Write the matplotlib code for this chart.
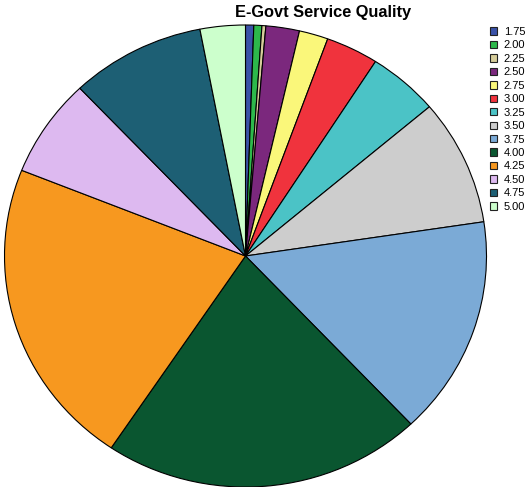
import matplotlib
matplotlib.use("Agg")
import matplotlib.pyplot as plt
from matplotlib.patches import Patch

# Share of responses at each rating level (percent)
ratings = ["1.75", "2.00", "2.25", "2.50", "2.75", "3.00", "3.25",
           "3.50", "3.75", "4.00", "4.25", "4.50", "4.75", "5.00"]
shares = [0.55, 0.54, 0.26, 2.25, 1.94, 3.53, 4.75,
          8.81, 15.33, 21.44, 21.64, 6.89, 9.03, 3.03]
colors = ["#3A52A8", "#2DB84B", "#D6CD9A", "#7B287D", "#FAF77A", "#F0333D",
          "#4BC3C6", "#CDCDCD", "#7BAAD6", "#0A5630", "#F7981F", "#DDB9F0",
          "#1D5F74", "#CCFFCC"]

W, H = 527, 487
fig = plt.figure(figsize=(W / 100, H / 100), dpi=100)
fig.patch.set_facecolor("white")

# Pie area (slightly wider than tall)
cx, cy, rx, ry = 245.5, 256, 241, 231
ax = fig.add_axes([(cx - rx) / W, (H - cy - ry) / H, 2 * rx / W, 2 * ry / H])
ax.pie(shares, colors=colors, startangle=90, counterclock=False,
       wedgeprops=dict(edgecolor="black", linewidth=0.8))
ax.set_aspect("auto")
ax.set_xlim(-1, 1)
ax.set_ylim(-1, 1)
ax.axis("off")

fig.text(323.5 / W, 1 - 13 / H, "E-Govt Service Quality", ha="center", va="center",
         fontsize=11.8, fontweight="bold", family="Liberation Sans")

handles = [Patch(facecolor=c, edgecolor="#222222", linewidth=0.8) for c in colors]
fig.legend(handles, ratings, loc="upper left", bbox_to_anchor=(490 / W, 1 - 27 / H),
           frameon=False, borderpad=0, borderaxespad=0, labelspacing=0.31,
           handlelength=0.63, handleheight=0.63, handletextpad=0.6,
           prop=dict(family="Liberation Sans", size=8))

fig.savefig("out.png", dpi=100)
